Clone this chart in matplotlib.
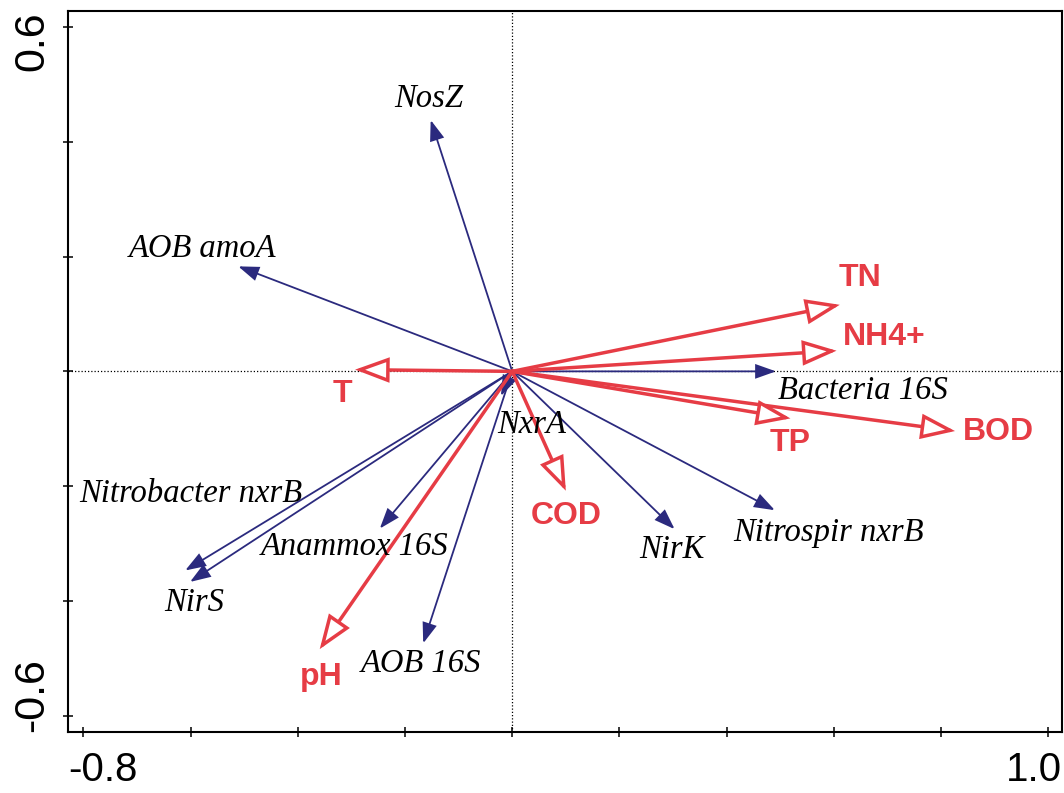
import numpy as np
import matplotlib
matplotlib.use("Agg")
import matplotlib.pyplot as plt
from matplotlib.patches import FancyArrowPatch
from matplotlib.transforms import blended_transform_factory

# Species (gene) vectors
species = ["NosZ", "AOB amoA", "Bacteria 16S", "Nitrospir nxrB", "NirK",
           "AOB 16S", "Anammox 16S", "Nitrobacter nxrB", "NirS", "NxrA"]
species_x = [-0.152, -0.511, 0.492, 0.490, 0.303, -0.166, -0.247, -0.610, -0.601, -0.021]
species_y = [0.438, 0.183, 0.000, -0.242, -0.275, -0.474, -0.274, -0.347, -0.367, -0.043]

# Environmental variable vectors
env = ["TN", "NH4+", "T", "BOD", "TP", "COD", "pH"]
env_x = [0.611, 0.605, -0.293, 0.826, 0.519, 0.100, -0.359]
env_y = [0.116, 0.036, 0.003, -0.104, -0.082, -0.208, -0.484]

# Axis ticks
x_ticks = [-0.8, -0.6, -0.4, -0.2, 0.0, 0.2, 0.4, 0.6, 0.8, 1.0]
y_ticks = [-0.6, -0.4, -0.2, 0.0, 0.2, 0.4, 0.6]

# Label offsets from arrow tips (pixels: right, up)
species_offsets = [(-2, 21), (-36, 18), (87, -19), (54, -23), (-3, -21),
                   (-2, -20), (-25, -18), (6, 77), (4, -21), (31, -29)]
env_offsets = [(20, 27), (48, 14), (-13, -24), (43, -1), (0, -25), (0, -25), (2, -28)]

NAVY = "#2B2A7E"
RED = "#E63C45"

W, H = 1064, 793
fig = plt.figure(figsize=(W / 100, H / 100), dpi=100)
left, right, top, bottom = 68.3, 1061.7, 11.0, 732.3
ax = fig.add_axes([left / W, 1 - bottom / H, (right - left) / W, (bottom - top) / H])
ax.set_xlim(-0.828, 1.025)
ax.set_ylim(-0.629, 0.628)

for s in ax.spines.values():
    s.set_linewidth(1.5)
    s.set_color("black")

ax.set_xticks(x_ticks)
ax.set_yticks(y_ticks)
ax.set_xticklabels([])
ax.set_yticklabels([])
ax.tick_params(axis="x", direction="inout", length=7.5, width=1.1, color="black")
ax.tick_params(axis="y", direction="inout", length=6.5, width=1.1, color="black")

# Origin cross-hairs
ax.axhline(0, color="black", lw=0.9, ls=(0, (1, 1.6)), zorder=1)
ax.axvline(0, color="black", lw=0.9, ls=(0, (1, 1.6)), zorder=1)

serif = ["Liberation Serif", "DejaVu Serif"]
sans = ["Liberation Sans", "DejaVu Sans"]

# Species arrows: thin navy lines with filled heads
for name, x, y, off in zip(species, species_x, species_y, species_offsets):
    arr = FancyArrowPatch((0, 0), (x, y),
                          arrowstyle="-|>,head_length=0.62,head_width=0.22",
                          mutation_scale=20, shrinkA=0, shrinkB=0,
                          lw=1.3, color=NAVY, joinstyle="miter", zorder=3)
    ax.add_patch(arr)
    ax.annotate(name, (x, y), xytext=off, textcoords="offset pixels",
                ha="center", va="center", fontsize=23.5, style="italic",
                family=serif, color="black", zorder=5)

# Environmental arrows: thick red lines with open heads
for name, x, y, off in zip(env, env_x, env_y, env_offsets):
    arr = FancyArrowPatch((0, 0), (x, y),
                          arrowstyle="-|>,head_length=1.0,head_width=0.37",
                          mutation_scale=20, shrinkA=0, shrinkB=0,
                          lw=2.5, edgecolor=RED, facecolor="white",
                          joinstyle="miter", zorder=4)
    ax.add_patch(arr)
    ax.annotate(name, (x, y), xytext=off, textcoords="offset pixels",
                ha="center", va="center", fontsize=23, fontweight="bold",
                family=sans, color=RED, zorder=5)

# End labels on the axes
bx = blended_transform_factory(ax.transAxes, ax.transAxes)
ax.text(0.0, -0.068, "-0.8", transform=bx, ha="left", va="baseline",
        fontsize=29, family=sans, color="black")
ax.text(1.0, -0.068, "1.0", transform=bx, ha="right", va="baseline",
        fontsize=29, family=sans, color="black")
ax.text(-0.016, 1.0, "0.6", transform=bx, ha="right", va="top",
        rotation=90, fontsize=31, family=sans, color="black")
ax.text(-0.016, 0.0, "-0.6", transform=bx, ha="right", va="bottom",
        rotation=90, fontsize=31, family=sans, color="black")

fig.savefig("out.png", dpi=100, facecolor="white")
